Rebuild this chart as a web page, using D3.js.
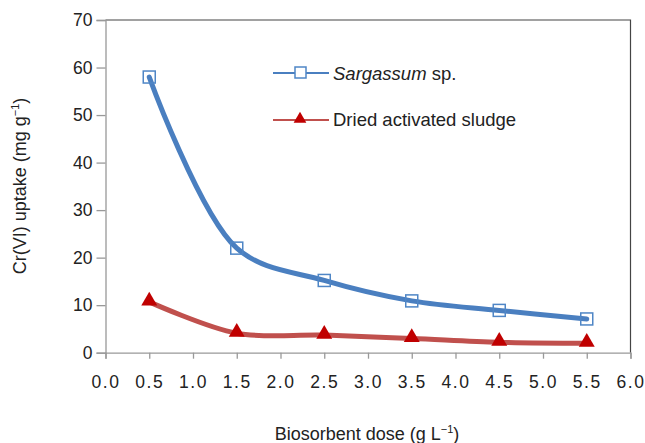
<!DOCTYPE html>
<html>
<head>
<meta charset="utf-8">
<script src="https://cdn.jsdelivr.net/npm/d3@7"></script>
<style>
  html, body { margin: 0; padding: 0; background: #fff; }
  svg { display: block; font-family: "Liberation Sans", Arial, sans-serif; }
</style>
</head>
<body>
<svg id="chart" width="645" height="443"></svg>
<script>
// Biosorbent dose (g/L)
const doses = [0.5, 1.5, 2.5, 3.5, 4.5, 5.5];
// Cr(VI) uptake (mg/g)
const sargassum = [58.0, 22.0, 15.2, 10.9, 8.9, 7.1];
const sludge = [10.7, 4.1, 3.7, 3.0, 2.2, 2.0];
const xTicks = [0, 0.5, 1, 1.5, 2, 2.5, 3, 3.5, 4, 4.5, 5, 5.5, 6];
const yTicks = [0, 10, 20, 30, 40, 50, 60, 70];

const svg = d3.select("#chart");
const plotLeft = 105.5, plotRight = 630.5, plotTop = 20, plotBottom = 352.7;

const x = d3.scaleLinear().domain([0, 6]).range([plotLeft, plotRight]);
const y = d3.scaleLinear().domain([0, 70]).range([plotBottom, plotTop]);

// Frame: top and right edges
svg.append("path")
  .attr("d", `M${plotLeft},${plotTop}H${plotRight}V${plotBottom}`)
  .attr("fill", "none").attr("stroke", "#444").attr("stroke-width", 1.2);

// Y axis
const yAxis = svg.append("g")
  .attr("transform", `translate(${plotLeft},0)`)
  .call(d3.axisLeft(y).tickValues(yTicks).tickSize(9).tickPadding(4));
yAxis.select(".domain").attr("stroke", "#999").attr("stroke-width", 1.3);
yAxis.selectAll(".tick line").attr("stroke", "#999").attr("stroke-width", 1.3);
yAxis.selectAll("text").attr("font-size", 17.5).attr("fill", "#222")
  .attr("font-family", "Liberation Sans, Arial, sans-serif");

// X axis
const xAxis = svg.append("g")
  .attr("transform", `translate(0,${plotBottom})`)
  .call(d3.axisBottom(x).tickValues(xTicks).tickSize(6).tickPadding(17)
    .tickFormat(d3.format(".1f")));
xAxis.select(".domain").attr("stroke", "#999").attr("stroke-width", 1.3);
xAxis.selectAll(".tick line").attr("stroke", "#999").attr("stroke-width", 1.3);
xAxis.selectAll("text").attr("font-size", 17.5).attr("fill", "#222")
  .attr("letter-spacing", "1.5px")
  .attr("font-family", "Liberation Sans, Arial, sans-serif");

// Axis titles
const yTitle = svg.append("text")
  .attr("transform", `translate(26,186) rotate(-90)`)
  .attr("text-anchor", "middle").attr("font-size", 18).attr("fill", "#222");
yTitle.append("tspan").text("Cr(VI) uptake (mg g");
yTitle.append("tspan").attr("font-size", 11).attr("dy", -7).text("−1");
yTitle.append("tspan").attr("dy", 7).text(")");

const xTitle = svg.append("text")
  .attr("x", 367).attr("y", 440)
  .attr("text-anchor", "middle").attr("font-size", 18).attr("fill", "#222");
xTitle.append("tspan").text("Biosorbent dose (g L");
xTitle.append("tspan").attr("font-size", 11).attr("dy", -7).text("−1");
xTitle.append("tspan").attr("dy", 7).text(")");

const blue = "#4a7fc0", red = "#c0504d", darkRed = "#c00000";

const line = d3.line()
  .x((d, i) => x(doses[i]))
  .y(d => y(d))
  .curve(d3.curveCatmullRom.alpha(0.5));

// Dried activated sludge
svg.append("path").datum(sludge)
  .attr("d", line).attr("fill", "none")
  .attr("stroke", red).attr("stroke-width", 5).attr("stroke-linecap", "round");

// Sargassum sp.
svg.append("path").datum(sargassum)
  .attr("d", line).attr("fill", "none")
  .attr("stroke", blue).attr("stroke-width", 5).attr("stroke-linecap", "round");

const sq = 12;
svg.selectAll(".sq").data(sargassum).join("rect")
  .attr("x", (d, i) => x(doses[i]) - sq / 2)
  .attr("y", d => y(d) - sq / 2)
  .attr("width", sq).attr("height", sq)
  .attr("fill", "none").attr("stroke", "#4f86c6").attr("stroke-width", 1.5);

const tri = d3.symbol().type(d3.symbolTriangle).size(110);
svg.selectAll(".tri").data(sludge).join("path")
  .attr("d", tri)
  .attr("transform", (d, i) => `translate(${x(doses[i])},${y(d) - 1})`)
  .attr("fill", darkRed);

// Legend
const lg = svg.append("g");
lg.append("line").attr("x1", 273).attr("x2", 329).attr("y1", 73).attr("y2", 73)
  .attr("stroke", blue).attr("stroke-width", 2.2);
lg.append("rect").attr("x", 295).attr("y", 67).attr("width", 11).attr("height", 11)
  .attr("fill", "#fff").attr("stroke", "#4f86c6").attr("stroke-width", 1.5);
const t1 = lg.append("text").attr("x", 333).attr("y", 80).attr("font-size", 18.5).attr("fill", "#222");
t1.append("tspan").attr("font-style", "italic").text("Sargassum");
t1.append("tspan").text(" sp.");

lg.append("line").attr("x1", 273).attr("x2", 329).attr("y1", 120).attr("y2", 120)
  .attr("stroke", red).attr("stroke-width", 2.2);
lg.append("path").attr("d", d3.symbol().type(d3.symbolTriangle).size(70))
  .attr("transform", "translate(300,119)").attr("fill", darkRed);
lg.append("text").attr("x", 333).attr("y", 126).attr("font-size", 18.5).attr("fill", "#222")
  .text("Dried activated sludge");
</script>
</body>
</html>
